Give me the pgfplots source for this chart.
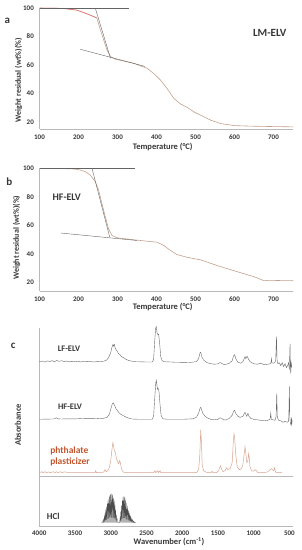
\documentclass[border=0pt]{standalone}
\usepackage{pgfplots}
\usepackage{pgfplotstable}
\pgfplotsset{compat=1.18}
\usepackage{fontspec}
\setmainfont{Carlito}
\definecolor{txt}{RGB}{55,55,55}
\definecolor{axl}{RGB}{185,185,185}
\definecolor{tga}{RGB}{195,160,140}
\definecolor{tgared}{RGB}{235,110,110}
\definecolor{tang}{RGB}{100,100,100}
\definecolor{phcol}{RGB}{215,165,145}
\definecolor{phtxt}{RGB}{195,85,45}
\definecolor{spec}{RGB}{105,105,105}
\pgfplotsset{
 common/.style={scale only axis, axis x line=bottom, axis y line=left,
   axis line style={axl,-}, tick style={draw=none},
   ticklabel style={font=\bfseries\fontsize{7}{8}\selectfont, text=txt},
   /pgf/number format/assume math mode=true,
   /pgf/number format/1000 sep={},
   clip=false},
}
\pgfplotstableread{
T W
100 100
150 99.8
170 99.4
196 98.5
213 96.8
230 95
247 93
256 84.7
264.6 77.6
273 70.6
282 65.9
294.5 64
320 62.5
341.7 61.2
376 57.6
393 54
410 49.4
427 43.5
444.5 36.5
461.7 32.5
479 30.2
496 27
513 24.7
539 21.2
564.6 18.8
599 17.4
641.7 17
700 16.7
751 16.5
}\curveA
\pgfplotstableread{
T W
100 100
150 99.9
190 99.5
204.6 98.8
218 97.6
230 95.3
243 90.6
251.7 84.7
260 75.3
268.9 65.9
277 57.6
286 52.9
299 51.3
341.7 49.9
376 48.9
401.7 48.2
419 45.9
436 42.4
453 39.5
479 37.6
513 35.8
556 31.8
599 28.2
650 24
676 21.2
689 21.5
720 21.3
751 21.2
}\curveB
\pgfplotstableread{
w h
4000 0
3950 0.6
3920 -0.4
3890 0.8
3850 0.2
3820 1.1
3790 -0.2
3760 1.2
3720 0.4
3690 1.0
3650 0.1
3620 0.7
3580 -0.2
3550 0.4
3500 0.1
3460 0.5
3420 -0.3
3380 0.3
3330 0
3290 0.3
3250 -0.3
3200 0
3150 0.2
3100 0.5
3060 1.5
3030 4
3000 9
2985 14
2970 17
2962 15.5
2950 17.5
2940 14
2925 12
2910 10.5
2890 8
2870 7
2850 5
2820 4
2790 2.5
2750 1.2
2700 0.5
2650 0
2500 -0.3
2420 -0.3
2400 2
2385 20
2370 34
2362 35
2352 29
2340 27
2330 27.5
2315 18
2300 5
2280 1
2250 0
2100 -0.5
1900 -0.8
1800 0
1770 3
1750 9
1740 9.5
1725 5
1700 1.5
1650 -1
1600 -2
1550 -2.5
1500 -2.2
1470 -0.8
1450 -1.5
1420 -2.8
1380 -2.5
1340 -1.5
1300 1
1280 6
1265 7
1250 3
1220 -0.5
1180 -1.5
1150 0
1120 5
1110 3
1090 5.5
1075 3
1050 0
1000 -2
950 -2.5
900 -1.5
850 -3
800 -2.5
760 -2
750 3
745 -1
720 -1.5
700 -0.5
690 2
680 25
672 2
660 -2
640 -1
620 -4
600 -1
580 -5
560 -2
540 -6
520 -3
510 -1
500 -8
495 5
490 18
485 -4
480 -12
475 0
470 -3
465 -6
}\specLF
\pgfplotstableread{
w h
4000 0
3900 0.2
3800 0.3
3760 1.5
3740 0.5
3700 0.3
3600 0.5
3500 0.4
3400 0.8
3300 0.6
3200 0.8
3150 0.5
3100 1
3050 2
3020 5
3000 10
2980 15
2965 16.6
2955 15
2945 14
2930 11
2910 9
2890 7
2860 5
2820 3.5
2780 2
2740 1
2700 0.3
2600 0
2420 0
2400 3
2385 20
2370 36
2362 39
2355 35
2345 30
2335 31
2325 28
2310 15
2295 4
2270 0.5
2200 0
2000 0
1850 0.5
1800 2
1770 6
1750 11
1740 12
1730 10
1710 6
1680 3
1650 1.5
1600 0
1550 -0.5
1500 0
1470 1.5
1450 1
1420 -0.5
1380 -0.5
1340 1
1300 4
1280 8
1265 9
1250 6
1220 3
1190 2
1150 3
1120 7
1110 5
1095 3
1080 6
1065 3
1040 1
1000 0
950 -0.5
900 -1
850 -1.5
800 -1
770 0
760 6
752 0
730 -0.5
700 -1
685 3
676 26
668 2
650 -1
620 -1.5
590 -3
560 -2
530 -3
510 -2
505 10
499 33
494 3
485 -4
475 -6
470 2
466 -5
460 -1
}\specHF
\pgfplotstableread{
w h
4000 0
3960 1
3950 0
3920 1
3900 0
3870 0.8
3850 0
3800 1
3780 0
3760 1
3740 0
3700 1
3680 0
3650 0.8
3620 0.5
3600 0
3500 0
3300 0
3220 0
3210 2
3200 0
3100 0.5
3080 3
3065 1
3040 2
3020 5
3000 12
2985 22
2970 30
2960 27
2950 22
2940 21
2930 18
2920 14
2905 11
2890 9
2875 12
2865 10
2850 4
2830 1
2800 0
2400 0
2380 2
2370 0
2340 2
2330 0
2310 2
2300 0
2200 0
1800 0
1770 3
1755 15
1740 43
1730 30
1720 8
1700 2
1650 0
1600 0
1580 1.5
1570 0
1520 0
1490 2
1465 7
1450 4
1430 1
1400 2
1380 5
1360 3
1330 4
1300 10
1285 30
1275 39
1265 35
1250 18
1230 6
1200 3
1170 4
1150 8
1130 20
1120 26
1110 20
1095 10
1080 12
1070 19
1062 16
1050 6
1030 2
1000 1.5
980 3
960 2
940 0
900 0
850 0
800 1
770 3
750 4
735 3
720 2
705 5
695 1
680 0
600 0
}\specPH
\pgfplotstableread{
w h
3130 0
3115 0.3
3110 2
3105 0.5
3100 4
3095 0.8
3090 7
3085 1.2
3080 10
3075 1.8
3070 13
3065 2.3
3060 16
3055 3
3050 19
3045 3.5
3040 22
3035 4
3030 24
3025 4.5
3020 26
3015 5
3010 27.5
3005 5
3000 28.5
2995 5
2990 29
2985 5
2980 28.5
2975 5
2970 27
2965 5
2960 25
2955 4.5
2950 22
2945 4
2940 18
2935 3
2930 13
2925 2
2920 8
2915 1
2910 4
2905 0.5
2895 0
2880 0
2875 0.5
2870 5
2865 1
2860 11
2855 2
2850 17
2845 3.5
2840 22
2835 4
2830 25.5
2825 4.5
2820 26.7
2815 4.5
2810 26
2805 4.5
2800 24.5
2795 4
2790 22
2785 3.5
2780 19.5
2775 3
2770 17
2765 3
2760 14.5
2755 2.5
2750 12
2745 2
2740 10
2735 1.5
2730 8
2725 1.2
2720 6.5
2715 1
2710 5
2705 0.8
2700 3.5
2695 0.5
2690 2.5
2685 0.3
2680 1.5
2675 0.2
2670 1
2665 0.1
2660 0.5
2650 0
}\specHCl
\begin{document}
\begin{tikzpicture}
\path[use as bounding box] (0pt,0pt) rectangle (301pt,550pt);
% ---------- panel a
\begin{axis}[common, at={(39.5pt,421pt)}, anchor=south west,
  width=253.5pt, height=121pt, xmin=100, xmax=750, ymin=15, ymax=100,
  xtick={100,200,...,700}, ytick={20,40,...,100}]
\addplot[tga, line width=0.6pt] table[x=T,y=W] {\curveA};
\addplot[tgared, line width=0.5pt] coordinates {(100,100) (150,99.8) (170,99.4) (196,98.5) (213,96.8) (230,95) (247,93)};
\addplot[tang, line width=0.4pt] coordinates {(100,100) (329,100)};
\addplot[tang, line width=0.4pt] coordinates {(243,100) (282,64.7)};
\addplot[tang, line width=0.4pt] coordinates {(204.6,71) (370,59)};
\end{axis}
% ---------- panel b
\begin{axis}[common, at={(39.5pt,259pt)}, anchor=south west,
  width=253.5pt, height=122.7pt, xmin=100, xmax=750, ymin=14, ymax=100,
  xtick={100,200,...,700}, ytick={20,40,...,100}]
\addplot[tga, line width=0.6pt] table[x=T,y=W] {\curveB};
\addplot[tang, line width=0.4pt] coordinates {(100,100) (346,100)};
\addplot[tang, line width=0.4pt] coordinates {(234.6,100) (280,51.8)};
\addplot[tang, line width=0.4pt] coordinates {(155.7,54.6) (350,49.4)};
\end{axis}
% ---------- panel c
\begin{axis}[common, at={(39.3pt,24.3pt)}, anchor=south west,
  width=253.6pt, height=197.4pt, xmin=450, xmax=4000, x dir=reverse,
  ymin=0, ymax=197.4, ytick=\empty, xtick={500,1000,...,4000}]
\addplot[spec, line width=0.4pt] table[x=w, y expr=\thisrow{h}+164] {\specLF};
\addplot[spec, line width=0.4pt] table[x=w, y expr=\thisrow{h}+106.4] {\specHF};
\addplot[axl, line width=0.4pt] coordinates {(4000,49.5) (450,49.5)};
\addplot[phcol, line width=0.5pt] table[x=w, y expr=\thisrow{h}+53] {\specPH};
\addplot[draw=gray!60!black, fill=gray!60, line width=0.15pt] table[x=w, y expr=\thisrow{h}+3] {\specHCl};
\end{axis}
% ---------- texts
\begin{scope}[font=\bfseries, text=txt]
\node[font=\bfseries\fontsize{11}{12}\selectfont] at (7.3pt,529.3pt) {a};
\node[font=\bfseries\fontsize{11}{12}\selectfont] at (269.7pt,517.5pt) {LM-ELV};
\node[font=\bfseries\fontsize{8}{9}\selectfont, rotate=90] at (18.7pt,470pt) {Weight residual (wt\%)(\%)};
\node[font=\bfseries\fontsize{8.5}{9}\selectfont] at (162.7pt,403.3pt) {Temperature (°C)};
\node[font=\bfseries\fontsize{11}{12}\selectfont] at (9.3pt,368.3pt) {b};
\node[font=\bfseries\fontsize{10}{11}\selectfont] at (66.7pt,352.7pt) {HF-ELV};
\node[font=\bfseries\fontsize{8}{9}\selectfont, rotate=90] at (16.7pt,312.3pt) {Weight residual (wt\%)(\%)};
\node[font=\bfseries\fontsize{8.5}{9}\selectfont] at (162.7pt,243.3pt) {Temperature (°C)};
\node[font=\bfseries\fontsize{11}{12}\selectfont] at (13.3pt,204pt) {c};
\node[font=\bfseries\fontsize{8.5}{9}\selectfont] at (69pt,201.7pt) {LF-ELV};
\node[font=\bfseries\fontsize{8.5}{9}\selectfont] at (70pt,143.3pt) {HF-ELV};
\node[font=\bfseries\fontsize{9.5}{11.3}\selectfont, text=phtxt, align=left] at (70pt,93.3pt) {phthalate\\plasticizer};
\node[font=\bfseries\fontsize{9}{10}\selectfont] at (53.3pt,34pt) {HCl};
\node[font=\bfseries\fontsize{8.5}{9}\selectfont, rotate=90] at (18pt,125pt) {Absorbance};
\node[font=\bfseries\fontsize{8.5}{9}\selectfont] at (169pt,8pt) {Wavenumber (cm\textsuperscript{-1})};
\end{scope}
\end{tikzpicture}
\end{document}
